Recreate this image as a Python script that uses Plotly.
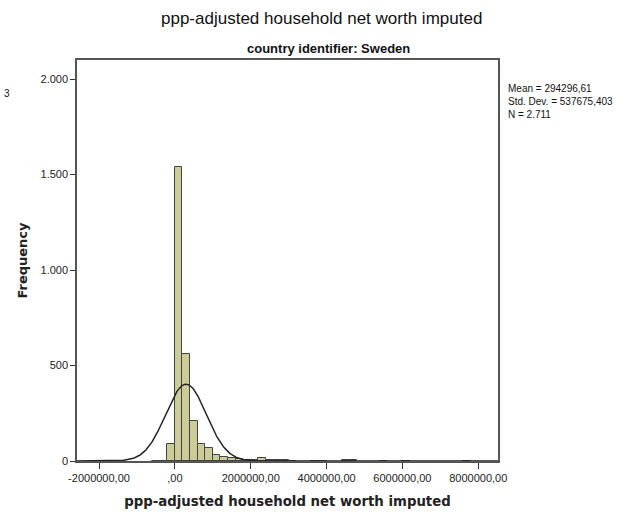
import numpy as np
import plotly.graph_objects as go

# Histogram bins (width 200000), left edges and counts
bin_width = 200000
bin_left = [-600000, -400000, -200000, 0, 200000, 400000, 600000, 800000,
            1000000, 1200000, 1400000, 1600000, 1800000, 2000000, 2200000,
            2400000, 2600000, 2800000, 3000000, 3600000, 3800000, 4400000,
            4600000, 5400000, 6000000, 7600000]
counts = [2, 0, 90, 1540, 560, 212, 88, 70,
          32, 21, 18, 11, 5, 3, 15,
          4, 4, 3, 2, 2, 2, 3,
          3, 1, 1, 2]

mean = 294296.61
std = 537675.403
n = 2711

y_ticks = [0, 500, 1000, 1500, 2000]
y_tick_labels = ["0", "500", "1.000", "1.500", "2.000"]
x_ticks = [-2000000, 0, 2000000, 4000000, 6000000, 8000000]
x_tick_labels = ["-2000000,00", ",00", "2000000,00", "4000000,00", "6000000,00", "8000000,00"]

centers = [l + bin_width / 2 for l in bin_left]

xs = np.linspace(-2580000, 8520000, 600)
ys = n * bin_width / (std * np.sqrt(2 * np.pi)) * np.exp(-0.5 * ((xs - mean) / std) ** 2)

fig = go.Figure()
fig.add_trace(go.Bar(x=centers, y=counts, width=bin_width,
                     marker=dict(color="#CCCC99", line=dict(color="#444444", width=1)),
                     hoverinfo="skip"))
fig.add_trace(go.Scatter(x=xs, y=ys, mode="lines",
                         line=dict(color="#222222", width=1.5), hoverinfo="skip"))

font_main = "Liberation Sans, Arial, sans-serif"
fig.update_layout(
    width=643, height=519,
    margin=dict(l=77, r=145, t=60, b=56),
    plot_bgcolor="white", paper_bgcolor="white",
    showlegend=False, bargap=0,
    font=dict(family=font_main, size=11, color="#222222"),
    xaxis=dict(range=[-2580000, 8520000], tickvals=x_ticks, ticktext=x_tick_labels,
               ticks="outside", ticklen=6, tickcolor="#333333", showgrid=False,
               zeroline=False, showline=True, linecolor="#555555", linewidth=1.5, mirror=True,
               tickfont=dict(size=11, family=font_main),
               title=dict(text="<b>ppp-adjusted household net worth imputed</b>",
                          font=dict(size=13.3, family="DejaVu Sans, sans-serif"), standoff=14)),
    yaxis=dict(range=[0, 2100], tickvals=y_ticks, ticktext=y_tick_labels,
               ticks="outside", ticklen=5, tickcolor="#333333", showgrid=False,
               zeroline=False, showline=True, linecolor="#555555", linewidth=1.5, mirror=True,
               tickfont=dict(size=11, family=font_main),
               title=dict(text="<b>Frequency</b>",
                          font=dict(size=13, family="DejaVu Sans, sans-serif"), standoff=10)),
    annotations=[
        dict(text="ppp-adjusted household net worth imputed", x=321, y=519 - 18,
             xref="paper", yref="paper", showarrow=False, xanchor="center", yanchor="middle",
             font=dict(size=17, family=font_main, color="#111111")),
        dict(text="<b>country identifier: Sweden</b>", x=328, y=519 - 48,
             xref="paper", yref="paper", showarrow=False, xanchor="center", yanchor="middle",
             font=dict(size=13, family=font_main, color="#111111")),
        dict(text="Mean = 294296,61<br>Std. Dev. = 537675,403<br>N = 2.711",
             x=506, y=519 - 81, xref="paper", yref="paper", showarrow=False,
             xanchor="left", yanchor="top", align="left",
             font=dict(size=10, family=font_main, color="#111111")),
        dict(text="3", x=2, y=519 - 94, xref="paper", yref="paper", showarrow=False,
             xanchor="left", yanchor="middle",
             font=dict(size=10, family=font_main, color="#111111")),
    ],
)

# convert pixel-based annotation positions to paper coordinates
pw = 643 - 77 - 145
ph = 519 - 60 - 56
new_ann = []
for a in fig.layout.annotations:
    a.x = (a.x - 77) / pw
    a.y = (a.y - 56) / ph
    new_ann.append(a)
fig.layout.annotations = new_ann

fig.write_html("out.html")
